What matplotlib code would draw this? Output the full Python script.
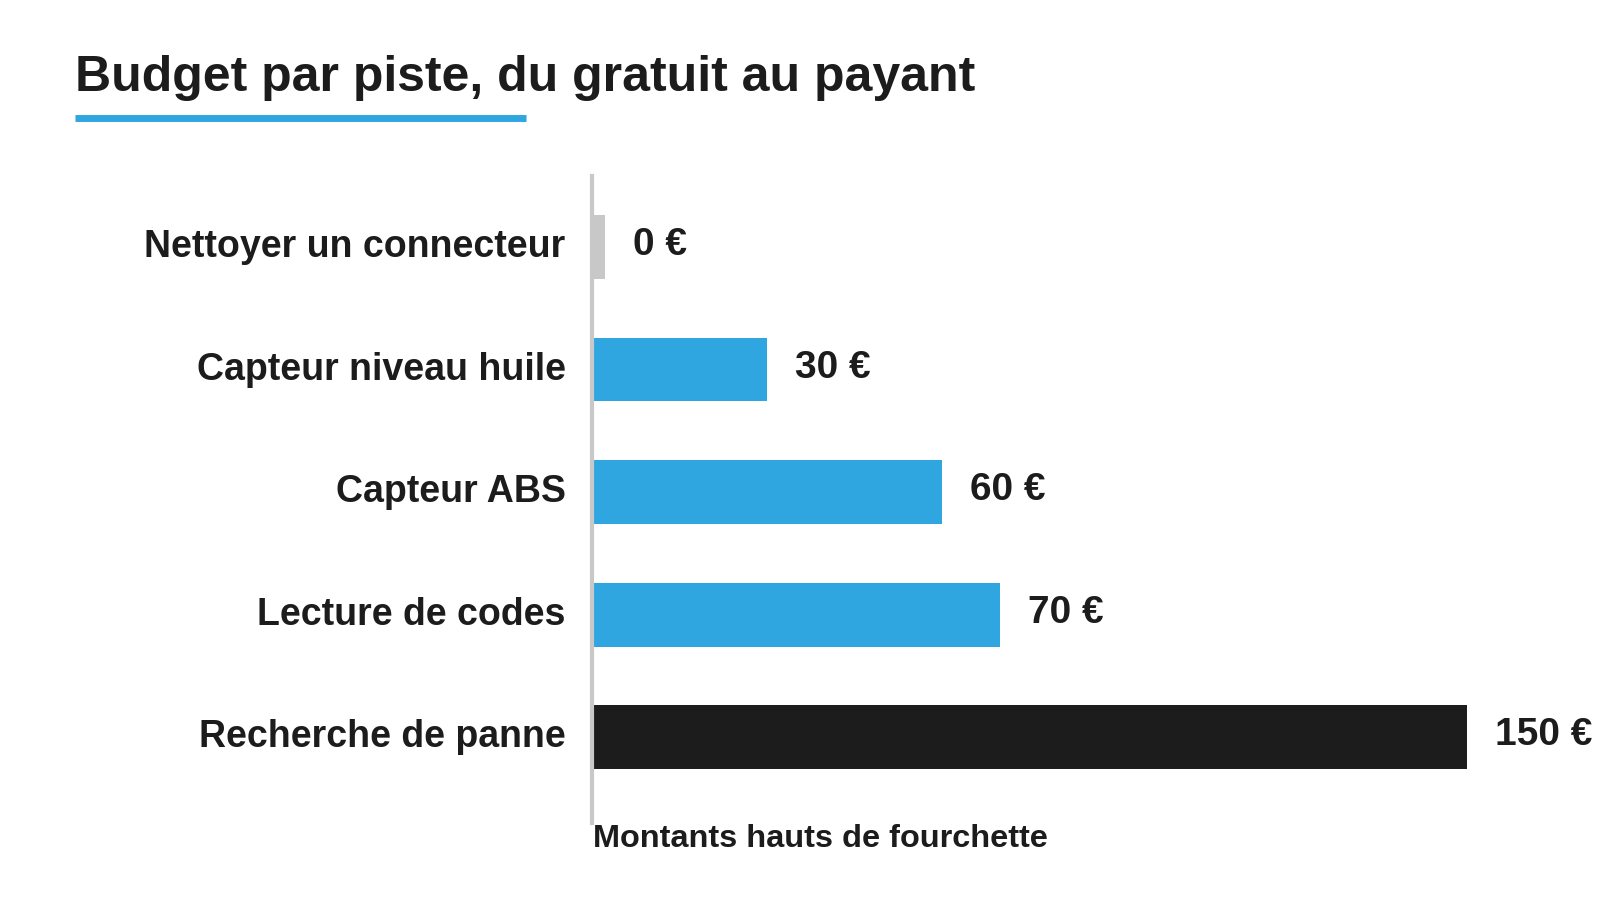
import matplotlib as mpl
mpl.use('Agg')
import matplotlib.pyplot as plt
from matplotlib.lines import Line2D

plt.rcParams['font.family'] = ['Liberation Sans', 'DejaVu Sans']
plt.rcParams['font.weight'] = 'bold'

categories = ["Nettoyer un connecteur", "Capteur niveau huile", "Capteur ABS",
              "Lecture de codes", "Recherche de panne"]
values = [0, 30, 60, 70, 150]
value_labels = ["0 €", "30 €", "60 €", "70 €", "150 €"]
bar_colors = ["#c8c8c8", "#2fa6e0", "#2fa6e0", "#2fa6e0", "#1c1c1c"]
title = "Budget par piste, du gratuit au payant"
footer = "Montants hauts de fourchette"

TXT = "#1c1c1c"
W, H = 1600, 900

fig = plt.figure(figsize=(16, 9), dpi=100)
ax = fig.add_axes([592 / W, 1 - 823 / H, 875 / W, 647 / H])

# zero values still get a thin stub so the row is visible
shown = [max(v, 2.2) for v in values]
ypos = list(range(len(categories)))
ax.barh(ypos, shown, height=0.52, color=bar_colors)
ax.set_xlim(0, 150)
ax.set_ylim(4.70, -0.58)

for y, w, lab in zip(ypos, shown, value_labels):
    ax.annotate(lab, (w, y), xytext=(20, 1.5), textcoords='offset points',
                va='center', ha='left', fontsize=28, fontweight='bold',
                color=TXT, annotation_clip=False)

ax.set_yticks(ypos)
ax.set_yticklabels(categories, fontsize=27, fontweight='bold', color=TXT,
                   va='center')
ax.tick_params(axis='y', length=0, pad=19)
ax.set_xticks([])
for s in ['top', 'right', 'bottom']:
    ax.spines[s].set_visible(False)
ax.spines['left'].set_color('#c8c8c8')
ax.spines['left'].set_linewidth(3)

fig.text(75 / W, 1 - 91 / H, title, fontsize=36, fontweight='bold',
         color=TXT, ha='left', va='baseline')
fig.add_artist(Line2D([75 / W, 526 / W], [1 - 118.5 / H, 1 - 118.5 / H],
                      transform=fig.transFigure, color='#2fa6e0',
                      linewidth=5, solid_capstyle='butt'))
fig.text(593 / W, 1 - 847 / H, footer, fontsize=23.4, fontweight='bold',
         color=TXT, ha='left', va='baseline')

fig.savefig('out.png', dpi=100, facecolor='white')
